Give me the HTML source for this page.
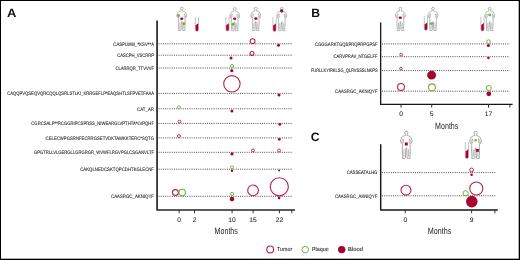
<!DOCTYPE html><html><head><meta charset="utf-8"><style>html,body{margin:0;padding:0;background:#fff;}body{width:520px;height:260px;overflow:hidden;font-family:"Liberation Sans",sans-serif;}svg{display:block;will-change:transform;}</style></head><body><svg width="520" height="260" viewBox="0 0 520 260" font-family="Liberation Sans, sans-serif" text-rendering="geometricPrecision">
<rect x="0" y="0" width="520" height="260" fill="#fff"/>
<text transform="translate(7.00,17.30) scale(0.1)" x="0" y="0" font-size="122.00" text-anchor="start" font-weight="bold" fill="#111" textLength="94.00" lengthAdjust="spacingAndGlyphs" >A</text>
<text transform="translate(311.30,17.40) scale(0.1)" x="0" y="0" font-size="122.00" text-anchor="start" font-weight="bold" fill="#111" >B</text>
<text transform="translate(310.80,141.30) scale(0.1)" x="0" y="0" font-size="122.00" text-anchor="start" font-weight="bold" fill="#111" >C</text>
<text transform="translate(113.30,45.55) scale(0.1)" x="0" y="0" font-size="50.00" text-anchor="start" font-weight="normal" fill="#222222" textLength="407.00" lengthAdjust="spacingAndGlyphs"  stroke="#222222" stroke-width="0.8">CASPLWW_*KSV**A</text>
<line x1="158.6" y1="43.8" x2="292.2" y2="43.8" stroke="#444444" stroke-width="1.0" stroke-dasharray="0.95 1.25"/>
<text transform="translate(117.20,56.95) scale(0.1)" x="0" y="0" font-size="50.00" text-anchor="start" font-weight="normal" fill="#222222" textLength="368.00" lengthAdjust="spacingAndGlyphs"  stroke="#222222" stroke-width="0.8">CASCPH_VSCRRP</text>
<line x1="158.6" y1="55.2" x2="292.2" y2="55.2" stroke="#444444" stroke-width="1.0" stroke-dasharray="0.95 1.25"/>
<text transform="translate(115.40,69.75) scale(0.1)" x="0" y="0" font-size="50.00" text-anchor="start" font-weight="normal" fill="#222222" textLength="386.00" lengthAdjust="spacingAndGlyphs"  stroke="#222222" stroke-width="0.8">CLARRQR_TTVVVF</text>
<line x1="158.6" y1="68.0" x2="292.2" y2="68.0" stroke="#444444" stroke-width="1.0" stroke-dasharray="0.95 1.25"/>
<text transform="translate(7.20,95.15) scale(0.1)" x="0" y="0" font-size="50.00" text-anchor="start" font-weight="normal" fill="#222222" textLength="1468.00" lengthAdjust="spacingAndGlyphs"  stroke="#222222" stroke-width="0.8">CAQQPVQSEQVQRCQQLQSRLSTLKI_KRRGEFLP*EAQSHTLSFPVETFAAA</text>
<line x1="158.6" y1="93.4" x2="292.2" y2="93.4" stroke="#444444" stroke-width="1.0" stroke-dasharray="0.95 1.25"/>
<text transform="translate(137.10,110.55) scale(0.1)" x="0" y="0" font-size="50.00" text-anchor="start" font-weight="normal" fill="#222222" textLength="169.00" lengthAdjust="spacingAndGlyphs"  stroke="#222222" stroke-width="0.8">CAT_AR</text>
<line x1="158.6" y1="108.8" x2="292.2" y2="108.8" stroke="#444444" stroke-width="1.0" stroke-dasharray="0.95 1.25"/>
<text transform="translate(31.30,125.15) scale(0.1)" x="0" y="0" font-size="50.00" text-anchor="start" font-weight="normal" fill="#222222" textLength="1227.00" lengthAdjust="spacingAndGlyphs"  stroke="#222222" stroke-width="0.8">CGRCSALP**RCGGRIPCSPRSS_NIWEARGLVPTHTA*LVPQHF</text>
<line x1="158.6" y1="123.4" x2="292.2" y2="123.4" stroke="#444444" stroke-width="1.0" stroke-dasharray="0.95 1.25"/>
<text transform="translate(45.60,139.65) scale(0.1)" x="0" y="0" font-size="50.00" text-anchor="start" font-weight="normal" fill="#222222" textLength="1084.00" lengthAdjust="spacingAndGlyphs"  stroke="#222222" stroke-width="0.8">CELECWPGSRNFECRRGSETVDKTAWKKTERC*SQTG</text>
<line x1="158.6" y1="137.9" x2="292.2" y2="137.9" stroke="#444444" stroke-width="1.0" stroke-dasharray="0.95 1.25"/>
<text transform="translate(34.00,154.05) scale(0.1)" x="0" y="0" font-size="50.00" text-anchor="start" font-weight="normal" fill="#222222" textLength="1200.00" lengthAdjust="spacingAndGlyphs"  stroke="#222222" stroke-width="0.8">GPGTRLLVLGERGLLGRGRGR_WVWFLRGVPGLCSGANVLTF</text>
<line x1="158.6" y1="152.3" x2="292.2" y2="152.3" stroke="#444444" stroke-width="1.0" stroke-dasharray="0.95 1.25"/>
<text transform="translate(80.20,170.95) scale(0.1)" x="0" y="0" font-size="50.00" text-anchor="start" font-weight="normal" fill="#222222" textLength="738.00" lengthAdjust="spacingAndGlyphs"  stroke="#222222" stroke-width="0.8">CAKQLNEDCSKTQPCDHTKGLECNF</text>
<line x1="158.6" y1="169.2" x2="292.2" y2="169.2" stroke="#444444" stroke-width="1.0" stroke-dasharray="0.95 1.25"/>
<text transform="translate(111.00,198.05) scale(0.1)" x="0" y="0" font-size="50.00" text-anchor="start" font-weight="normal" fill="#222222" textLength="430.00" lengthAdjust="spacingAndGlyphs"  stroke="#222222" stroke-width="0.8">CAASRGC_AKNIQYF</text>
<line x1="158.6" y1="196.3" x2="292.2" y2="196.3" stroke="#444444" stroke-width="1.0" stroke-dasharray="0.95 1.25"/>
<path d="M157.07,20.5 L157.07,210.0 L295,210.0" fill="none" stroke="#262626" stroke-width="1.7" stroke-linejoin="round"/>
<line x1="179.1" y1="209.9" x2="179.1" y2="213.3" stroke="#333333" stroke-width="1"/>
<line x1="194.5" y1="209.9" x2="194.5" y2="213.3" stroke="#333333" stroke-width="1"/>
<line x1="232.1" y1="209.9" x2="232.1" y2="213.3" stroke="#333333" stroke-width="1"/>
<line x1="253.1" y1="209.9" x2="253.1" y2="213.3" stroke="#333333" stroke-width="1"/>
<line x1="279.4" y1="209.9" x2="279.4" y2="213.3" stroke="#333333" stroke-width="1"/>
<line x1="291.8" y1="209.9" x2="291.8" y2="213.3" stroke="#333333" stroke-width="1"/>
<text transform="translate(179.10,222.10) scale(0.1)" x="0" y="0" font-size="67.00" text-anchor="middle" font-weight="normal" fill="#222222"  stroke="#222222" stroke-width="0.6">0</text>
<text transform="translate(194.50,222.10) scale(0.1)" x="0" y="0" font-size="67.00" text-anchor="middle" font-weight="normal" fill="#222222"  stroke="#222222" stroke-width="0.6">2</text>
<text transform="translate(232.10,222.10) scale(0.1)" x="0" y="0" font-size="67.00" text-anchor="middle" font-weight="normal" fill="#222222"  stroke="#222222" stroke-width="0.6">10</text>
<text transform="translate(253.10,222.10) scale(0.1)" x="0" y="0" font-size="67.00" text-anchor="middle" font-weight="normal" fill="#222222"  stroke="#222222" stroke-width="0.6">15</text>
<text transform="translate(279.40,222.10) scale(0.1)" x="0" y="0" font-size="67.00" text-anchor="middle" font-weight="normal" fill="#222222"  stroke="#222222" stroke-width="0.6">22</text>
<text transform="translate(226.20,234.10) scale(0.1)" x="0" y="0" font-size="92.00" text-anchor="middle" font-weight="normal" fill="#222222" textLength="234.00" lengthAdjust="spacingAndGlyphs" >Months</text>
<circle cx="252.6" cy="41.2" r="2.45" fill="none" stroke="#b7214a" stroke-width="1.1"/>
<circle cx="278.5" cy="45.3" r="1.5" fill="#a5042f"/>
<circle cx="252.0" cy="53.4" r="1.95" fill="none" stroke="#b7214a" stroke-width="1.1"/>
<circle cx="231.0" cy="57.9" r="1.5" fill="#a5042f"/>
<circle cx="232.0" cy="66.0" r="1.50" fill="none" stroke="#6db33f" stroke-width="1.0"/>
<circle cx="231.8" cy="70.7" r="1.6" fill="#a5042f"/>
<circle cx="231.9" cy="83.85" r="8.20" fill="none" stroke="#b7214a" stroke-width="1.1"/>
<circle cx="279.0" cy="95.0" r="1.5" fill="#a5042f"/>
<circle cx="178.9" cy="107.3" r="1.45" fill="none" stroke="#6db33f" stroke-width="0.9"/>
<circle cx="231.9" cy="110.9" r="1.5" fill="#a5042f"/>
<circle cx="179.5" cy="121.6" r="1.45" fill="none" stroke="#b7214a" stroke-width="0.9"/>
<circle cx="279.8" cy="124.4" r="1.4" fill="#a5042f"/>
<circle cx="179.0" cy="136.1" r="1.45" fill="none" stroke="#b7214a" stroke-width="0.9"/>
<circle cx="279.3" cy="139.3" r="1.4" fill="#a5042f"/>
<circle cx="232.0" cy="153.9" r="1.6" fill="#a5042f"/>
<circle cx="253.0" cy="150.5" r="1.45" fill="none" stroke="#b7214a" stroke-width="0.9"/>
<circle cx="279.1" cy="150.5" r="1.45" fill="none" stroke="#b7214a" stroke-width="0.9"/>
<circle cx="232.0" cy="167.3" r="1.45" fill="none" stroke="#6db33f" stroke-width="0.9"/>
<circle cx="232.0" cy="170.7" r="1.2" fill="#a5042f"/>
<circle cx="279.1" cy="170.6" r="1.0" fill="#a5042f"/>
<circle cx="175.4" cy="192.6" r="2.95" fill="none" stroke="#b7214a" stroke-width="1.1"/>
<circle cx="182.2" cy="192.5" r="3.20" fill="none" stroke="#6db33f" stroke-width="1.1"/>
<circle cx="232.1" cy="193.9" r="1.60" fill="none" stroke="#6db33f" stroke-width="1.0"/>
<circle cx="232.0" cy="199.0" r="2.35" fill="#a5042f"/>
<circle cx="253.05" cy="190.4" r="5.35" fill="none" stroke="#b7214a" stroke-width="1.1"/>
<circle cx="279.3" cy="186.8" r="9.05" fill="none" stroke="#b7214a" stroke-width="1.1"/>
<circle cx="279.1" cy="198.1" r="1.3" fill="#a5042f"/>
<g transform="translate(181.75,7.2) scale(1.0)">
<path d="M-0.50,2.80 L-0.55,3.60 L-2.20,4.20 L-3.50,4.90 L-4.20,6.00 L-4.80,7.60 L-5.00,8.60 L-4.60,9.60 L-3.90,10.80 L-3.50,11.40 L-3.20,11.60 L-3.30,13.00 L-3.40,16.00 L-3.20,19.50 L-3.00,22.20 L-3.60,22.90 L-3.30,23.30 L-0.90,23.30 L-0.70,22.20 L-0.50,17.00 L-0.25,14.60 L0.00,14.30 L0.25,14.60 L0.50,17.00 L0.70,22.20 L0.90,23.30 L3.30,23.30 L3.60,22.90 L3.00,22.20 L3.20,19.50 L3.40,16.00 L3.30,13.00 L3.20,11.60 L3.50,11.40 L3.90,10.80 L4.60,9.60 L5.00,8.60 L4.80,7.60 L4.20,6.00 L3.50,4.90 L2.20,4.20 L0.55,3.60 L0.50,2.80 Z" fill="#fff" stroke="#6e6e6e" stroke-width="0.5" stroke-linejoin="round"/>
<path d="M-2.6,6.6 L-2.5,9.0 L-3.1,10.6 L-4.0,8.6 Z M2.6,6.6 L2.5,9.0 L3.1,10.6 L4.0,8.6 Z M-1.9,15.5 L-2.0,22.0 M1.9,15.5 L2.0,22.0" fill="none" stroke="#7a7a7a" stroke-width="0.45" stroke-linejoin="round"/>
<circle cx="0" cy="1.5" r="1.4" fill="#fff" stroke="#6e6e6e" stroke-width="0.5"/>
<rect x="-0.45" y="2.6" width="0.9" height="1.3" fill="#fff"/>
</g>
<circle cx="178.5" cy="15.6" r="1.45" fill="#6db33f"/>
<ellipse cx="181.75" cy="18.7" rx="1.6" ry="1.25" fill="#a5042f"/>
<circle cx="183.9" cy="23.7" r="1.45" fill="#6db33f"/>
<path d="M195.3,17.1 L195.3,29.8 Q195.3,31.3 196.9,31.3 Q198.5,31.3 198.5,29.8 L198.5,17.1" fill="#fff" stroke="#9a9a9a" stroke-width="0.6"/>
<path d="M195.6,25.336 L198.20000000000002,23.348 L198.20000000000002,29.8 Q198.20000000000002,31.0 196.9,31.0 Q195.6,31.0 195.6,29.8 Z" fill="#a5042f"/>
<path d="M225.9,17.2 L225.9,29.6 Q225.9,31.1 227.5,31.1 Q229.1,31.1 229.1,29.6 L229.1,17.2" fill="#fff" stroke="#9a9a9a" stroke-width="0.6"/>
<path d="M226.2,25.262 L228.8,23.316 L228.8,29.6 Q228.8,30.8 227.5,30.8 Q226.2,30.8 226.2,29.6 Z" fill="#a5042f"/>
<g transform="translate(234.7,7.4) scale(1.0)">
<path d="M-0.50,2.80 L-0.55,3.60 L-2.20,4.20 L-3.50,4.90 L-4.20,6.00 L-4.80,7.60 L-5.00,8.60 L-4.60,9.60 L-3.90,10.80 L-3.50,11.40 L-3.20,11.60 L-3.30,13.00 L-3.40,16.00 L-3.20,19.50 L-3.00,22.20 L-3.60,22.90 L-3.30,23.30 L-0.90,23.30 L-0.70,22.20 L-0.50,17.00 L-0.25,14.60 L0.00,14.30 L0.25,14.60 L0.50,17.00 L0.70,22.20 L0.90,23.30 L3.30,23.30 L3.60,22.90 L3.00,22.20 L3.20,19.50 L3.40,16.00 L3.30,13.00 L3.20,11.60 L3.50,11.40 L3.90,10.80 L4.60,9.60 L5.00,8.60 L4.80,7.60 L4.20,6.00 L3.50,4.90 L2.20,4.20 L0.55,3.60 L0.50,2.80 Z" fill="#fff" stroke="#6e6e6e" stroke-width="0.5" stroke-linejoin="round"/>
<path d="M-2.6,6.6 L-2.5,9.0 L-3.1,10.6 L-4.0,8.6 Z M2.6,6.6 L2.5,9.0 L3.1,10.6 L4.0,8.6 Z M-1.9,15.5 L-2.0,22.0 M1.9,15.5 L2.0,22.0" fill="none" stroke="#7a7a7a" stroke-width="0.45" stroke-linejoin="round"/>
<circle cx="0" cy="1.5" r="1.4" fill="#fff" stroke="#6e6e6e" stroke-width="0.5"/>
<rect x="-0.45" y="2.6" width="0.9" height="1.3" fill="#fff"/>
</g>
<ellipse cx="234.7" cy="18.7" rx="1.6" ry="1.25" fill="#a5042f"/>
<circle cx="232.9" cy="24.2" r="1.45" fill="#6db33f"/>
<g transform="translate(255.75,7.2) scale(1.0)">
<path d="M-0.50,2.80 L-0.55,3.60 L-2.20,4.20 L-3.50,4.90 L-4.20,6.00 L-4.80,7.60 L-5.00,8.60 L-4.60,9.60 L-3.90,10.80 L-3.50,11.40 L-3.20,11.60 L-3.30,13.00 L-3.40,16.00 L-3.20,19.50 L-3.00,22.20 L-3.60,22.90 L-3.30,23.30 L-0.90,23.30 L-0.70,22.20 L-0.50,17.00 L-0.25,14.60 L0.00,14.30 L0.25,14.60 L0.50,17.00 L0.70,22.20 L0.90,23.30 L3.30,23.30 L3.60,22.90 L3.00,22.20 L3.20,19.50 L3.40,16.00 L3.30,13.00 L3.20,11.60 L3.50,11.40 L3.90,10.80 L4.60,9.60 L5.00,8.60 L4.80,7.60 L4.20,6.00 L3.50,4.90 L2.20,4.20 L0.55,3.60 L0.50,2.80 Z" fill="#fff" stroke="#6e6e6e" stroke-width="0.5" stroke-linejoin="round"/>
<path d="M-2.6,6.6 L-2.5,9.0 L-3.1,10.6 L-4.0,8.6 Z M2.6,6.6 L2.5,9.0 L3.1,10.6 L4.0,8.6 Z M-1.9,15.5 L-2.0,22.0 M1.9,15.5 L2.0,22.0" fill="none" stroke="#7a7a7a" stroke-width="0.45" stroke-linejoin="round"/>
<circle cx="0" cy="1.5" r="1.4" fill="#fff" stroke="#6e6e6e" stroke-width="0.5"/>
<rect x="-0.45" y="2.6" width="0.9" height="1.3" fill="#fff"/>
</g>
<ellipse cx="255.85" cy="18.6" rx="1.65" ry="1.29" fill="#a5042f"/>
<path d="M272.9,17.4 L272.9,30.0 Q272.9,31.5 274.5,31.5 Q276.1,31.5 276.1,30.0 L276.1,17.4" fill="#fff" stroke="#9a9a9a" stroke-width="0.6"/>
<path d="M273.2,25.578 L275.8,23.604 L275.8,30.0 Q275.8,31.2 274.5,31.2 Q273.2,31.2 273.2,30.0 Z" fill="#a5042f"/>
<g transform="translate(281.7,7.4) scale(1.0)">
<path d="M-0.50,2.80 L-0.55,3.60 L-2.20,4.20 L-3.50,4.90 L-4.20,6.00 L-4.80,7.60 L-5.00,8.60 L-4.60,9.60 L-3.90,10.80 L-3.50,11.40 L-3.20,11.60 L-3.30,13.00 L-3.40,16.00 L-3.20,19.50 L-3.00,22.20 L-3.60,22.90 L-3.30,23.30 L-0.90,23.30 L-0.70,22.20 L-0.50,17.00 L-0.25,14.60 L0.00,14.30 L0.25,14.60 L0.50,17.00 L0.70,22.20 L0.90,23.30 L3.30,23.30 L3.60,22.90 L3.00,22.20 L3.20,19.50 L3.40,16.00 L3.30,13.00 L3.20,11.60 L3.50,11.40 L3.90,10.80 L4.60,9.60 L5.00,8.60 L4.80,7.60 L4.20,6.00 L3.50,4.90 L2.20,4.20 L0.55,3.60 L0.50,2.80 Z" fill="#fff" stroke="#6e6e6e" stroke-width="0.5" stroke-linejoin="round"/>
<path d="M-2.6,6.6 L-2.5,9.0 L-3.1,10.6 L-4.0,8.6 Z M2.6,6.6 L2.5,9.0 L3.1,10.6 L4.0,8.6 Z M-1.9,15.5 L-2.0,22.0 M1.9,15.5 L2.0,22.0" fill="none" stroke="#7a7a7a" stroke-width="0.45" stroke-linejoin="round"/>
<circle cx="0" cy="1.5" r="1.4" fill="#fff" stroke="#6e6e6e" stroke-width="0.5"/>
<rect x="-0.45" y="2.6" width="0.9" height="1.3" fill="#fff"/>
</g>
<circle cx="281.7" cy="10.9" r="1.65" fill="#a5042f"/>
<text transform="translate(315.00,45.65) scale(0.1)" x="0" y="0" font-size="50.00" text-anchor="start" font-weight="normal" fill="#222222" textLength="626.00" lengthAdjust="spacingAndGlyphs"  stroke="#222222" stroke-width="0.8">CGGGARKTGQSPRQPRPGPSF</text>
<line x1="382.0" y1="43.9" x2="509.8" y2="43.9" stroke="#444444" stroke-width="1.0" stroke-dasharray="0.95 1.25"/>
<text transform="translate(333.50,58.45) scale(0.1)" x="0" y="0" font-size="50.00" text-anchor="start" font-weight="normal" fill="#222222" textLength="441.00" lengthAdjust="spacingAndGlyphs"  stroke="#222222" stroke-width="0.8">CARVPRAV_NTGELFF</text>
<line x1="382.0" y1="56.7" x2="509.8" y2="56.7" stroke="#444444" stroke-width="1.0" stroke-dasharray="0.95 1.25"/>
<text transform="translate(310.90,72.35) scale(0.1)" x="0" y="0" font-size="50.00" text-anchor="start" font-weight="normal" fill="#222222" textLength="667.00" lengthAdjust="spacingAndGlyphs"  stroke="#222222" stroke-width="0.8">FURLLKYIRKLSG_QLRVSSSLNKPS</text>
<line x1="382.0" y1="70.6" x2="509.8" y2="70.6" stroke="#444444" stroke-width="1.0" stroke-dasharray="0.95 1.25"/>
<text transform="translate(335.10,92.95) scale(0.1)" x="0" y="0" font-size="50.00" text-anchor="start" font-weight="normal" fill="#222222" textLength="425.00" lengthAdjust="spacingAndGlyphs"  stroke="#222222" stroke-width="0.8">CAASRGC_AKNIQYF</text>
<line x1="382.0" y1="91.2" x2="509.8" y2="91.2" stroke="#444444" stroke-width="1.0" stroke-dasharray="0.95 1.25"/>
<path d="M380.67,22.4 L380.67,104.45 L512.6,104.45" fill="none" stroke="#161616" stroke-width="1.3" stroke-linejoin="round"/>
<line x1="401.05" y1="104.4" x2="401.05" y2="107.6" stroke="#333333" stroke-width="1.05"/>
<line x1="431.7" y1="104.4" x2="431.7" y2="107.6" stroke="#333333" stroke-width="1.05"/>
<line x1="488.5" y1="104.4" x2="488.5" y2="107.6" stroke="#333333" stroke-width="1.05"/>
<line x1="509.9" y1="104.4" x2="509.9" y2="107.6" stroke="#333333" stroke-width="1.05"/>
<text transform="translate(401.05,116.30) scale(0.1)" x="0" y="0" font-size="67.00" text-anchor="middle" font-weight="normal" fill="#222222"  stroke="#222222" stroke-width="0.6">0</text>
<text transform="translate(431.70,116.30) scale(0.1)" x="0" y="0" font-size="67.00" text-anchor="middle" font-weight="normal" fill="#222222"  stroke="#222222" stroke-width="0.6">5</text>
<text transform="translate(488.50,116.30) scale(0.1)" x="0" y="0" font-size="67.00" text-anchor="middle" font-weight="normal" fill="#222222"  stroke="#222222" stroke-width="0.6">17</text>
<text transform="translate(446.70,128.60) scale(0.1)" x="0" y="0" font-size="92.00" text-anchor="middle" font-weight="normal" fill="#222222" textLength="234.00" lengthAdjust="spacingAndGlyphs" >Months</text>
<circle cx="488.5" cy="41.6" r="1.80" fill="none" stroke="#6db33f" stroke-width="1.0"/>
<circle cx="488.4" cy="45.4" r="1.5" fill="#a5042f"/>
<circle cx="401.1" cy="54.6" r="1.35" fill="none" stroke="#b7214a" stroke-width="0.9"/>
<circle cx="488.4" cy="58.0" r="1.3" fill="#a5042f"/>
<circle cx="401.0" cy="68.6" r="1.35" fill="none" stroke="#b7214a" stroke-width="0.9"/>
<circle cx="431.6" cy="75.2" r="4.4" fill="#a5042f"/>
<circle cx="401.0" cy="86.9" r="3.45" fill="none" stroke="#b7214a" stroke-width="1.1"/>
<circle cx="431.9" cy="87.3" r="3.45" fill="none" stroke="#6db33f" stroke-width="1.1"/>
<circle cx="488.8" cy="88.0" r="2.50" fill="none" stroke="#6db33f" stroke-width="1.0"/>
<circle cx="488.8" cy="93.8" r="2.4" fill="#a5042f"/>
<g transform="translate(400.4,7.2) scale(1.0)">
<path d="M-0.50,2.80 L-0.55,3.60 L-2.20,4.20 L-3.50,4.90 L-4.20,6.00 L-4.80,7.60 L-5.00,8.60 L-4.60,9.60 L-3.90,10.80 L-3.50,11.40 L-3.20,11.60 L-3.30,13.00 L-3.40,16.00 L-3.20,19.50 L-3.00,22.20 L-3.60,22.90 L-3.30,23.30 L-0.90,23.30 L-0.70,22.20 L-0.50,17.00 L-0.25,14.60 L0.00,14.30 L0.25,14.60 L0.50,17.00 L0.70,22.20 L0.90,23.30 L3.30,23.30 L3.60,22.90 L3.00,22.20 L3.20,19.50 L3.40,16.00 L3.30,13.00 L3.20,11.60 L3.50,11.40 L3.90,10.80 L4.60,9.60 L5.00,8.60 L4.80,7.60 L4.20,6.00 L3.50,4.90 L2.20,4.20 L0.55,3.60 L0.50,2.80 Z" fill="#fff" stroke="#6e6e6e" stroke-width="0.5" stroke-linejoin="round"/>
<path d="M-2.6,6.6 L-2.5,9.0 L-3.1,10.6 L-4.0,8.6 Z M2.6,6.6 L2.5,9.0 L3.1,10.6 L4.0,8.6 Z M-1.9,15.5 L-2.0,22.0 M1.9,15.5 L2.0,22.0" fill="none" stroke="#7a7a7a" stroke-width="0.45" stroke-linejoin="round"/>
<circle cx="0" cy="1.5" r="1.4" fill="#fff" stroke="#6e6e6e" stroke-width="0.5"/>
<rect x="-0.45" y="2.6" width="0.9" height="1.3" fill="#fff"/>
</g>
<ellipse cx="400.25" cy="17.8" rx="1.65" ry="1.29" fill="#a5042f"/>
<path d="M424.29999999999995,16.2 L424.29999999999995,28.8 Q424.29999999999995,30.3 425.9,30.3 Q427.5,30.3 427.5,28.8 L427.5,16.2" fill="#fff" stroke="#9a9a9a" stroke-width="0.6"/>
<path d="M424.59999999999997,24.378 L427.2,22.404 L427.2,28.8 Q427.2,30.0 425.9,30.0 Q424.59999999999997,30.0 424.59999999999997,28.8 Z" fill="#a5042f"/>
<g transform="translate(433.0,7.2) scale(1.0)">
<path d="M-0.50,2.80 L-0.55,3.60 L-2.20,4.20 L-3.50,4.90 L-4.20,6.00 L-4.80,7.60 L-5.00,8.60 L-4.60,9.60 L-3.90,10.80 L-3.50,11.40 L-3.20,11.60 L-3.30,13.00 L-3.40,16.00 L-3.20,19.50 L-3.00,22.20 L-3.60,22.90 L-3.30,23.30 L-0.90,23.30 L-0.70,22.20 L-0.50,17.00 L-0.25,14.60 L0.00,14.30 L0.25,14.60 L0.50,17.00 L0.70,22.20 L0.90,23.30 L3.30,23.30 L3.60,22.90 L3.00,22.20 L3.20,19.50 L3.40,16.00 L3.30,13.00 L3.20,11.60 L3.50,11.40 L3.90,10.80 L4.60,9.60 L5.00,8.60 L4.80,7.60 L4.20,6.00 L3.50,4.90 L2.20,4.20 L0.55,3.60 L0.50,2.80 Z" fill="#fff" stroke="#6e6e6e" stroke-width="0.5" stroke-linejoin="round"/>
<path d="M-2.6,6.6 L-2.5,9.0 L-3.1,10.6 L-4.0,8.6 Z M2.6,6.6 L2.5,9.0 L3.1,10.6 L4.0,8.6 Z M-1.9,15.5 L-2.0,22.0 M1.9,15.5 L2.0,22.0" fill="none" stroke="#7a7a7a" stroke-width="0.45" stroke-linejoin="round"/>
<circle cx="0" cy="1.5" r="1.4" fill="#fff" stroke="#6e6e6e" stroke-width="0.5"/>
<rect x="-0.45" y="2.6" width="0.9" height="1.3" fill="#fff"/>
</g>
<circle cx="431.4" cy="23.6" r="1.45" fill="#6db33f"/>
<path d="M480.9,16.8 L480.9,29.5 Q480.9,31.0 482.5,31.0 Q484.1,31.0 484.1,29.5 L484.1,16.8" fill="#fff" stroke="#9a9a9a" stroke-width="0.6"/>
<path d="M481.2,25.036 L483.8,23.048000000000002 L483.8,29.5 Q483.8,30.7 482.5,30.7 Q481.2,30.7 481.2,29.5 Z" fill="#a5042f"/>
<g transform="translate(489.7,7.3) scale(1.0)">
<path d="M-0.50,2.80 L-0.55,3.60 L-2.20,4.20 L-3.50,4.90 L-4.20,6.00 L-4.80,7.60 L-5.00,8.60 L-4.60,9.60 L-3.90,10.80 L-3.50,11.40 L-3.20,11.60 L-3.30,13.00 L-3.40,16.00 L-3.20,19.50 L-3.00,22.20 L-3.60,22.90 L-3.30,23.30 L-0.90,23.30 L-0.70,22.20 L-0.50,17.00 L-0.25,14.60 L0.00,14.30 L0.25,14.60 L0.50,17.00 L0.70,22.20 L0.90,23.30 L3.30,23.30 L3.60,22.90 L3.00,22.20 L3.20,19.50 L3.40,16.00 L3.30,13.00 L3.20,11.60 L3.50,11.40 L3.90,10.80 L4.60,9.60 L5.00,8.60 L4.80,7.60 L4.20,6.00 L3.50,4.90 L2.20,4.20 L0.55,3.60 L0.50,2.80 Z" fill="#fff" stroke="#6e6e6e" stroke-width="0.5" stroke-linejoin="round"/>
<path d="M-2.6,6.6 L-2.5,9.0 L-3.1,10.6 L-4.0,8.6 Z M2.6,6.6 L2.5,9.0 L3.1,10.6 L4.0,8.6 Z M-1.9,15.5 L-2.0,22.0 M1.9,15.5 L2.0,22.0" fill="none" stroke="#7a7a7a" stroke-width="0.45" stroke-linejoin="round"/>
<circle cx="0" cy="1.5" r="1.4" fill="#fff" stroke="#6e6e6e" stroke-width="0.5"/>
<rect x="-0.45" y="2.6" width="0.9" height="1.3" fill="#fff"/>
</g>
<circle cx="489.7" cy="14.9" r="1.4" fill="#6db33f"/>
<text transform="translate(346.70,174.35) scale(0.1)" x="0" y="0" font-size="50.00" text-anchor="start" font-weight="normal" fill="#222222" textLength="307.00" lengthAdjust="spacingAndGlyphs"  stroke="#222222" stroke-width="0.8">CASSEATALHG</text>
<line x1="382.0" y1="172.6" x2="495.3" y2="172.6" stroke="#444444" stroke-width="1.0" stroke-dasharray="0.95 1.25"/>
<text transform="translate(334.90,197.55) scale(0.1)" x="0" y="0" font-size="50.00" text-anchor="start" font-weight="normal" fill="#222222" textLength="425.00" lengthAdjust="spacingAndGlyphs"  stroke="#222222" stroke-width="0.8">CAASRGC_AKNIQYF</text>
<line x1="382.0" y1="195.8" x2="495.3" y2="195.8" stroke="#444444" stroke-width="1.0" stroke-dasharray="0.95 1.25"/>
<path d="M380.7,144.2 L380.7,210.0 L497.8,210.0" fill="none" stroke="#161616" stroke-width="1.45" stroke-linejoin="round"/>
<line x1="405.3" y1="210" x2="405.3" y2="213.3" stroke="#333333" stroke-width="1"/>
<line x1="471.6" y1="210" x2="471.6" y2="213.3" stroke="#333333" stroke-width="1"/>
<line x1="494.9" y1="210" x2="494.9" y2="213.3" stroke="#333333" stroke-width="1"/>
<text transform="translate(405.30,222.10) scale(0.1)" x="0" y="0" font-size="67.00" text-anchor="middle" font-weight="normal" fill="#222222"  stroke="#222222" stroke-width="0.6">0</text>
<text transform="translate(471.50,222.10) scale(0.1)" x="0" y="0" font-size="67.00" text-anchor="middle" font-weight="normal" fill="#222222"  stroke="#222222" stroke-width="0.6">9</text>
<text transform="translate(439.50,234.10) scale(0.1)" x="0" y="0" font-size="92.00" text-anchor="middle" font-weight="normal" fill="#222222" textLength="236.00" lengthAdjust="spacingAndGlyphs" >Months</text>
<circle cx="471.6" cy="169.9" r="1.90" fill="none" stroke="#b7214a" stroke-width="1.0"/>
<circle cx="471.6" cy="174.8" r="1.3" fill="#a5042f"/>
<circle cx="406.0" cy="190.2" r="4.95" fill="none" stroke="#b7214a" stroke-width="1.1"/>
<circle cx="465.7" cy="193.2" r="2.60" fill="none" stroke="#6db33f" stroke-width="1.0"/>
<circle cx="476.3" cy="188.5" r="6.55" fill="none" stroke="#b7214a" stroke-width="1.1"/>
<circle cx="471.8" cy="201.6" r="5.8" fill="#a5042f"/>
<g transform="translate(406.3,131.1) scale(1.17)">
<path d="M-0.50,2.80 L-0.55,3.60 L-2.20,4.20 L-3.50,4.90 L-4.20,6.00 L-4.80,7.60 L-5.00,8.60 L-4.60,9.60 L-3.90,10.80 L-3.50,11.40 L-3.20,11.60 L-3.30,13.00 L-3.40,16.00 L-3.20,19.50 L-3.00,22.20 L-3.60,22.90 L-3.30,23.30 L-0.90,23.30 L-0.70,22.20 L-0.50,17.00 L-0.25,14.60 L0.00,14.30 L0.25,14.60 L0.50,17.00 L0.70,22.20 L0.90,23.30 L3.30,23.30 L3.60,22.90 L3.00,22.20 L3.20,19.50 L3.40,16.00 L3.30,13.00 L3.20,11.60 L3.50,11.40 L3.90,10.80 L4.60,9.60 L5.00,8.60 L4.80,7.60 L4.20,6.00 L3.50,4.90 L2.20,4.20 L0.55,3.60 L0.50,2.80 Z" fill="#fff" stroke="#6e6e6e" stroke-width="0.5" stroke-linejoin="round"/>
<path d="M-2.6,6.6 L-2.5,9.0 L-3.1,10.6 L-4.0,8.6 Z M2.6,6.6 L2.5,9.0 L3.1,10.6 L4.0,8.6 Z M-1.9,15.5 L-2.0,22.0 M1.9,15.5 L2.0,22.0" fill="none" stroke="#7a7a7a" stroke-width="0.45" stroke-linejoin="round"/>
<circle cx="0" cy="1.5" r="1.4" fill="#fff" stroke="#6e6e6e" stroke-width="0.5"/>
<rect x="-0.45" y="2.6" width="0.9" height="1.3" fill="#fff"/>
</g>
<rect x="404.8" y="142.5" width="3.0" height="3.0" fill="#a5042f"/>
<path d="M465.29999999999995,142.0 L465.29999999999995,157.0 Q465.29999999999995,158.5 466.9,158.5 Q468.5,158.5 468.5,157.0 L468.5,142.0" fill="#fff" stroke="#9a9a9a" stroke-width="0.6"/>
<path d="M465.59999999999997,151.57 L468.2,149.26 L468.2,157.0 Q468.2,158.2 466.9,158.2 Q465.59999999999997,158.2 465.59999999999997,157.0 Z" fill="#a5042f"/>
<g transform="translate(475.6,131.1) scale(1.17)">
<path d="M-0.50,2.80 L-0.55,3.60 L-2.20,4.20 L-3.50,4.90 L-4.20,6.00 L-4.80,7.60 L-5.00,8.60 L-4.60,9.60 L-3.90,10.80 L-3.50,11.40 L-3.20,11.60 L-3.30,13.00 L-3.40,16.00 L-3.20,19.50 L-3.00,22.20 L-3.60,22.90 L-3.30,23.30 L-0.90,23.30 L-0.70,22.20 L-0.50,17.00 L-0.25,14.60 L0.00,14.30 L0.25,14.60 L0.50,17.00 L0.70,22.20 L0.90,23.30 L3.30,23.30 L3.60,22.90 L3.00,22.20 L3.20,19.50 L3.40,16.00 L3.30,13.00 L3.20,11.60 L3.50,11.40 L3.90,10.80 L4.60,9.60 L5.00,8.60 L4.80,7.60 L4.20,6.00 L3.50,4.90 L2.20,4.20 L0.55,3.60 L0.50,2.80 Z" fill="#fff" stroke="#6e6e6e" stroke-width="0.5" stroke-linejoin="round"/>
<path d="M-2.6,6.6 L-2.5,9.0 L-3.1,10.6 L-4.0,8.6 Z M2.6,6.6 L2.5,9.0 L3.1,10.6 L4.0,8.6 Z M-1.9,15.5 L-2.0,22.0 M1.9,15.5 L2.0,22.0" fill="none" stroke="#7a7a7a" stroke-width="0.45" stroke-linejoin="round"/>
<circle cx="0" cy="1.5" r="1.4" fill="#fff" stroke="#6e6e6e" stroke-width="0.5"/>
<rect x="-0.45" y="2.6" width="0.9" height="1.3" fill="#fff"/>
</g>
<circle cx="475.6" cy="140.2" r="1.3" fill="#6db33f"/>
<rect x="476.1" y="149.0" width="2.8" height="2.8" fill="#a5042f"/>
<circle cx="270.2" cy="249.4" r="3.42" fill="none" stroke="#b7214a" stroke-width="1.15"/>
<text transform="translate(277.00,251.40) scale(0.1)" x="0" y="0" font-size="58.00" text-anchor="start" font-weight="normal" fill="#222222" textLength="152.00" lengthAdjust="spacingAndGlyphs"  stroke="#222222" stroke-width="0.8">Tumor</text>
<circle cx="305.2" cy="249.6" r="3.30" fill="none" stroke="#6db33f" stroke-width="1.0"/>
<text transform="translate(311.90,251.40) scale(0.1)" x="0" y="0" font-size="58.00" text-anchor="start" font-weight="normal" fill="#222222" textLength="168.00" lengthAdjust="spacingAndGlyphs"  stroke="#222222" stroke-width="0.8">Plaque</text>
<circle cx="341.7" cy="249.6" r="3.7" fill="#a5042f"/>
<text transform="translate(348.00,251.40) scale(0.1)" x="0" y="0" font-size="58.00" text-anchor="start" font-weight="normal" fill="#222222" textLength="149.00" lengthAdjust="spacingAndGlyphs"  stroke="#222222" stroke-width="0.8">Blood</text>
<rect x="0" y="0" width="520" height="1" fill="#000"/>
<rect x="0" y="0" width="1" height="260" fill="#000"/>
<rect x="518" y="0" width="1" height="260" fill="#000" fill-opacity="0.3"/>
<rect x="0" y="258" width="520" height="1" fill="#000" fill-opacity="0.3"/>
<rect x="519" y="0" width="1" height="260" fill="#000"/>
<rect x="0" y="259" width="520" height="1" fill="#000"/>
</svg></body></html>
